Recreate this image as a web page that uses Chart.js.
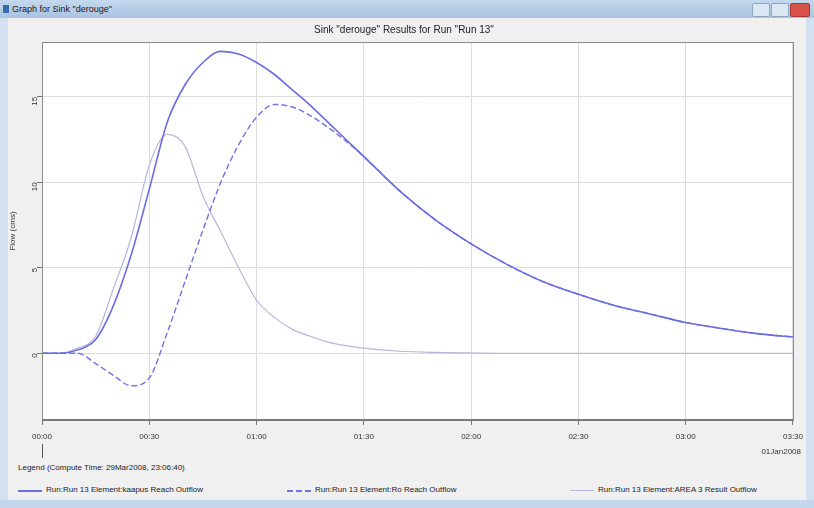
<!DOCTYPE html>
<html>
<head>
<meta charset="utf-8">
<script src="https://cdn.jsdelivr.net/npm/chart.js@4"></script>
<style>
    html, body { margin: 0; padding: 0; }
    body {
        width: 814px; height: 508px; overflow: hidden; position: relative;
        background: #f0f0f0;
        font-family: "Liberation Sans", "DejaVu Sans", sans-serif;
    }
    #titleBar {
        position: absolute; left: 0; top: 0; width: 814px; height: 18px;
        background: linear-gradient(#c4d8ee, #a9c3e2);
        font-size: 9px; color: #1a1a1a; line-height: 18px;
    }
    #titleBar .icon {
        position: absolute; left: 3px; top: 5px; width: 6px; height: 8px; background: #3a6ab0;
    }
    #titleBar .text { position: absolute; left: 12px; }
    .btn {
        position: absolute; top: 3px; height: 12px; width: 16px;
        border: 1px solid #8ea6c4; background: #dce7f4; border-radius: 2px;
    }
    #frameLeft { position: absolute; left: 0; top: 18px; width: 8px; height: 490px; background: #d3e1f1; }
    #frameRight { position: absolute; right: 0; top: 18px; width: 8px; height: 490px; background: #d3e1f1; }
    #frameBottom { position: absolute; left: 0; top: 500px; width: 814px; height: 8px; background: #c3d6ec; }
    #chartBox { position: absolute; left: 8px; top: 18px; width: 802px; height: 440px; }
    #legendTitle { position: absolute; left: 18px; top: 463px; font-size: 8px; color: #222; }
    .legItem { position: absolute; top: 485px; font-size: 8px; color: #222; height: 10px; }
    .legItem .sample { position: absolute; left: 0; top: 5px; width: 24px; height: 0; }
    .legItem .label { position: absolute; left: 28px; top: 0; white-space: nowrap; }
</style>
</head>
<body>
<div id="titleBar">
    <div class="icon"></div>
    <div class="text">Graph for Sink "derouge"</div>
    <div class="btn" style="left:752px"></div>
    <div class="btn" style="left:771px"></div>
    <div class="btn" style="left:790px;width:18px;background:#d9534a;border-color:#9a3a33"></div>
</div>
<div id="frameLeft"></div>
<div id="frameRight"></div>
<div id="frameBottom"></div>
<div id="chartBox"><canvas id="flowChart" width="802" height="440"></canvas></div>
<div id="legendTitle"></div>
<div id="legend"></div>

<script>
// Time in minutes since 00:00 on 01Jan2008
const timeMin = [0, 5, 10, 15, 20, 25, 30, 35, 40, 45, 50, 55, 60, 65, 70, 75, 80, 85, 90,
    100, 110, 120, 130, 140, 150, 160, 170, 180, 190, 200, 210];

// Flow (cms)
const kaapusOutflow = [0, 0, 0.2, 0.8, 2.8, 5.8, 9.6, 13.5, 15.7, 17.0, 17.65, 17.5, 17.0, 16.3, 15.4, 14.5, 13.5, 12.5, 11.5,
    9.5, 7.8, 6.4, 5.2, 4.2, 3.45, 2.8, 2.3, 1.8, 1.45, 1.15, 0.95];
const roOutflow = [0, 0, 0, -0.6, -1.3, -1.9, -1.45, 1.2, 4.2, 7.2, 10.0, 12.2, 13.8, 14.55, 14.4, 13.9, 13.2, 12.4, 11.5,
    9.5, 7.8, 6.4, 5.2, 4.2, 3.45, 2.8, 2.3, 1.8, 1.45, 1.15, 0.95];
const area3Outflow = [0, 0, 0.3, 1.0, 3.8, 6.8, 11.0, 12.8, 12.1, 9.2, 7.1, 5.0, 3.1, 2.1, 1.4, 1.0, 0.65, 0.45, 0.3,
    0.12, 0.05, 0.02, 0, 0, 0, 0, 0, 0, 0, 0, 0];

const seriesNames = [
    'Run:Run 13 Element:kaapus Reach Outflow',
    'Run:Run 13 Element:Ro Reach Outflow',
    'Run:Run 13 Element:AREA 3 Result Outflow'
];
const xTickStep = 30;
const yTickStep = 5;
const chartTitle = 'Sink "derouge" Results for Run "Run 13"';
const legendHeading = 'Legend (Compute Time: 29Mar2008, 23:06:40)';
const dateLabel = '01Jan2008';

function toPoints(values) {
    return values.map((v, i) => ({ x: timeMin[i], y: v }));
}

function formatTime(mins) {
    const h = Math.floor(mins / 60);
    const m = mins % 60;
    return String(h).padStart(2, '0') + ':' + String(m).padStart(2, '0');
}

// White plot area, frame, date label and day marker
const extrasPlugin = {
    id: 'extras',
    beforeDraw(chart) {
        const ctx = chart.ctx;
        const area = chart.chartArea;
        ctx.save();
        ctx.fillStyle = '#ffffff';
        ctx.fillRect(area.left, area.top, area.right - area.left, area.bottom - area.top);
        ctx.restore();
    },
    afterDraw(chart) {
        const ctx = chart.ctx;
        const area = chart.chartArea;
        const xs = chart.scales.x;
        ctx.save();
        ctx.strokeStyle = '#8c8c8c';
        ctx.lineWidth = 1;
        ctx.strokeRect(area.left + 0.5, area.top + 0.5, area.right - area.left, area.bottom - area.top);
        ctx.strokeStyle = '#7a7a7a';
        ctx.lineWidth = 2;
        ctx.beginPath();
        ctx.moveTo(area.left, area.bottom);
        ctx.lineTo(area.right, area.bottom);
        ctx.stroke();
        // day marker under 00:00
        const x0 = Math.round(xs.getPixelForValue(timeMin[0])) + 0.5;
        ctx.lineWidth = 1;
        ctx.strokeStyle = '#555';
        ctx.beginPath();
        ctx.moveTo(x0, area.bottom + 24);
        ctx.lineTo(x0, area.bottom + 38);
        ctx.stroke();
        ctx.fillStyle = '#333';
        ctx.font = '8px "Liberation Sans", sans-serif';
        ctx.textAlign = 'right';
        ctx.textBaseline = 'top';
        ctx.fillText(dateLabel, xs.getPixelForValue(timeMin[timeMin.length - 1]) + 8, area.bottom + 28);
        ctx.restore();
    }
};

const lineColors = ['#6c6ce2', '#7272e0', '#b6b6dc'];

const chartConfig = {
    type: 'line',
    data: {
        datasets: [{
            label: seriesNames[0],
            data: toPoints(kaapusOutflow),
            borderColor: lineColors[0],
            borderWidth: 1.6
        }, {
            label: seriesNames[1],
            data: toPoints(roOutflow),
            borderColor: lineColors[1],
            borderWidth: 1.4,
            borderDash: [6, 3]
        }, {
            label: seriesNames[2],
            data: toPoints(area3Outflow),
            borderColor: lineColors[2],
            borderWidth: 1.2
        }]
    },
    options: {
        responsive: false,
        animation: false,
        elements: {
            point: { radius: 0 },
            line: { cubicInterpolationMode: 'monotone', fill: false }
        },
        layout: { padding: { left: 0, right: 10, top: 0, bottom: 0 } },
        scales: {
            x: {
                type: 'linear',
                min: 0,
                max: 210,
                afterFit(scale) { scale.height = 38; },
                grid: { color: '#dcdcdc', tickLength: 5, tickColor: '#777' },
                border: { display: false },
                ticks: {
                    stepSize: xTickStep,
                    color: '#333',
                    font: { size: 8, family: '"Liberation Sans", sans-serif' },
                    padding: 7,
                    maxRotation: 0,
                    callback: (v) => formatTime(v)
                }
            },
            y: {
                min: -3.9,
                max: 18.2,
                afterFit(scale) { scale.width = 34; },
                grid: { color: '#dcdcdc', tickLength: 5, tickColor: '#777' },
                border: { display: false },
                title: {
                    display: true,
                    text: 'Flow (cms)',
                    color: '#333',
                    font: { size: 8, family: '"Liberation Sans", sans-serif' },
                    padding: 0
                },
                ticks: {
                    stepSize: yTickStep,
                    includeBounds: false,
                    color: '#333',
                    minRotation: 90,
                    maxRotation: 90,
                    padding: 2,
                    font: { size: 8, family: '"Liberation Sans", sans-serif' }
                }
            }
        },
        plugins: {
            legend: { display: false },
            tooltip: { enabled: false },
            title: {
                display: true,
                text: chartTitle,
                color: '#222',
                font: { size: 10, weight: 'normal', family: '"Liberation Sans", sans-serif' },
                padding: { top: 6, bottom: 6 }
            }
        }
    },
    plugins: [extrasPlugin]
};

const flowChart = new Chart(document.getElementById('flowChart').getContext('2d'), chartConfig);

// HTML legend built from the datasets
document.getElementById('legendTitle').textContent = legendHeading;
const legendLeft = [18, 287, 570];
const legend = document.getElementById('legend');
flowChart.data.datasets.forEach((ds, i) => {
    const item = document.createElement('div');
    item.className = 'legItem';
    item.style.left = legendLeft[i] + 'px';
    const style = ds.borderDash ? 'dashed' : 'solid';
    item.innerHTML = `<div class="sample" style="border-top:${i === 2 ? 1 : 2}px ${style} ${ds.borderColor}"></div>` +
        `<div class="label"></div>`;
    item.querySelector('.label').textContent = ds.label;
    legend.appendChild(item);
});
</script>
</body>
</html>
